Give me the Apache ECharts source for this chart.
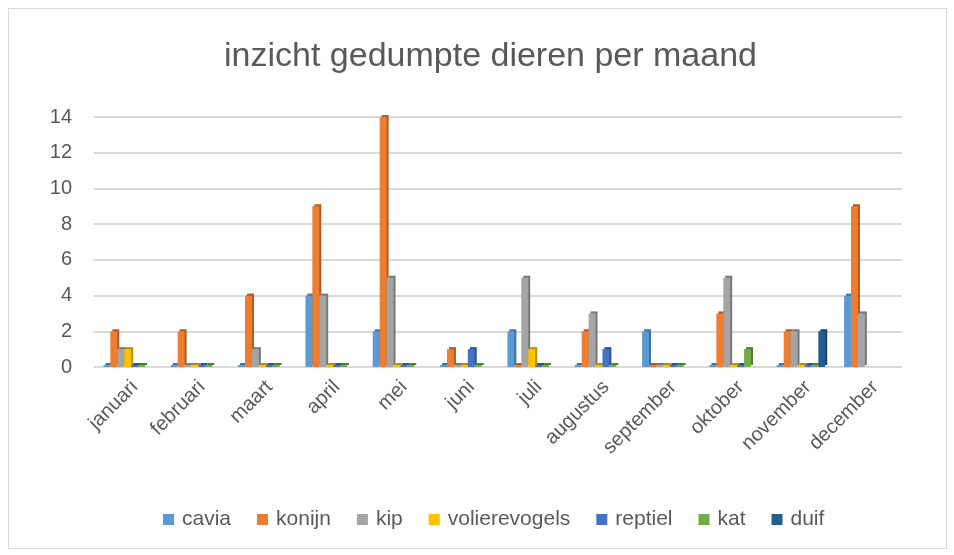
<!DOCTYPE html>
<html>
<head>
<meta charset="utf-8">
<title>inzicht gedumpte dieren per maand</title>
<script src="https://cdn.jsdelivr.net/npm/echarts@6/dist/echarts.min.js"></script>
<style>
  html, body { margin: 0; padding: 0; background: #fff; }
  #frame { position: absolute; left: 8px; top: 8px; width: 937px; height: 539px; border: 1px solid #d9d9d9; }
  #main { position: absolute; left: 0; top: 0; width: 954px; height: 555px; }
</style>
</head>
<body>
<div id="frame"></div>
<div id="main"></div>
<script type="text/javascript">
// maanden en aantallen per dier (null = geen waarde)
var maanden = ['januari', 'februari', 'maart', 'april', 'mei', 'juni', 'juli', 'augustus', 'september', 'oktober', 'november', 'december'];
var cavia         = [0, 0, 0, 4, 2, 0, 2, 0, 2, 0, 0, 4];
var konijn        = [2, 2, 4, 9, 14, 1, 0, 2, 0, 3, 2, 9];
var kip           = [1, 0, 1, 4, 5, 0, 5, 3, 0, 5, 2, 3];
var volierevogels = [1, 0, 0, 0, 0, 0, 1, 0, 0, 0, 0, null];
var reptiel       = [0, 0, 0, 0, 0, 1, 0, 1, 0, 0, 0, null];
var kat           = [0, 0, 0, 0, 0, 0, 0, 0, 0, 1, 0, null];
var duif          = [null, null, null, null, null, null, null, null, null, null, 2, null];
var yTicks = [0, 2, 4, 6, 8, 10, 12, 14];

var reeksen = [
  { name: 'cavia', data: cavia, kleur: '#5b9bd5', zijkant: '#41719c' },
  { name: 'konijn', data: konijn, kleur: '#ed7d31', zijkant: '#ae5a21' },
  { name: 'kip', data: kip, kleur: '#a5a5a5', zijkant: '#787878' },
  { name: 'volierevogels', data: volierevogels, kleur: '#ffc000', zijkant: '#bc8c00' },
  { name: 'reptiel', data: reptiel, kleur: '#4472c4', zijkant: '#2f528f' },
  { name: 'kat', data: kat, kleur: '#70ad47', zijkant: '#507e32' },
  { name: 'duif', data: duif, kleur: '#255e91', zijkant: '#1a4368' }
];

var myChart = echarts.init(document.getElementById('main'));

var series = [];
for (var i = 0; i < reeksen.length; i++) {
  series.push({
    name: reeksen[i].name,
    type: 'bar',
    data: reeksen[i].data,
    barGap: '0%',
    barCategoryGap: '28%',
    barMinHeight: 2,
    itemStyle: {
      color: reeksen[i].kleur,
      shadowColor: reeksen[i].zijkant,
      shadowBlur: 0,
      shadowOffsetX: 2,
      shadowOffsetY: -2
    }
  });
}

var option = {
  animation: false,
  textStyle: { fontFamily: 'Liberation Sans, Arial, sans-serif' },
  color: reeksen.map(function (r) { return r.kleur; }),
  title: {
    text: 'inzicht gedumpte dieren per maand',
    left: 219,
    top: 35,
    textStyle: { color: '#595959', fontSize: 34, fontWeight: 'normal' }
  },
  legend: {
    bottom: 20,
    left: 158,
    itemWidth: 11,
    itemHeight: 11,
    itemGap: 26,
    icon: 'rect',
    textStyle: { color: '#595959', fontSize: 21, padding: [0, 0, 0, 3] },
    data: reeksen.map(function (r) { return r.name; })
  },
  grid: { left: 94, right: 52, top: 117, bottom: 188, containLabel: false },
  xAxis: {
    type: 'category',
    data: maanden,
    axisLine: { show: false },
    axisTick: { show: false },
    axisLabel: { rotate: 45, color: '#595959', fontSize: 20, margin: 10, interval: 0, verticalAlign: 'top' }
  },
  yAxis: {
    type: 'value',
    min: yTicks[0],
    max: yTicks[yTicks.length - 1],
    interval: 2,
    axisLine: { show: false },
    axisTick: { show: false },
    axisLabel: { color: '#595959', fontSize: 20, margin: 22 },
    splitLine: { lineStyle: { color: '#d9d9d9', width: 2 } }
  },
  series: series
};

myChart.setOption(option);
</script>
</body>
</html>
